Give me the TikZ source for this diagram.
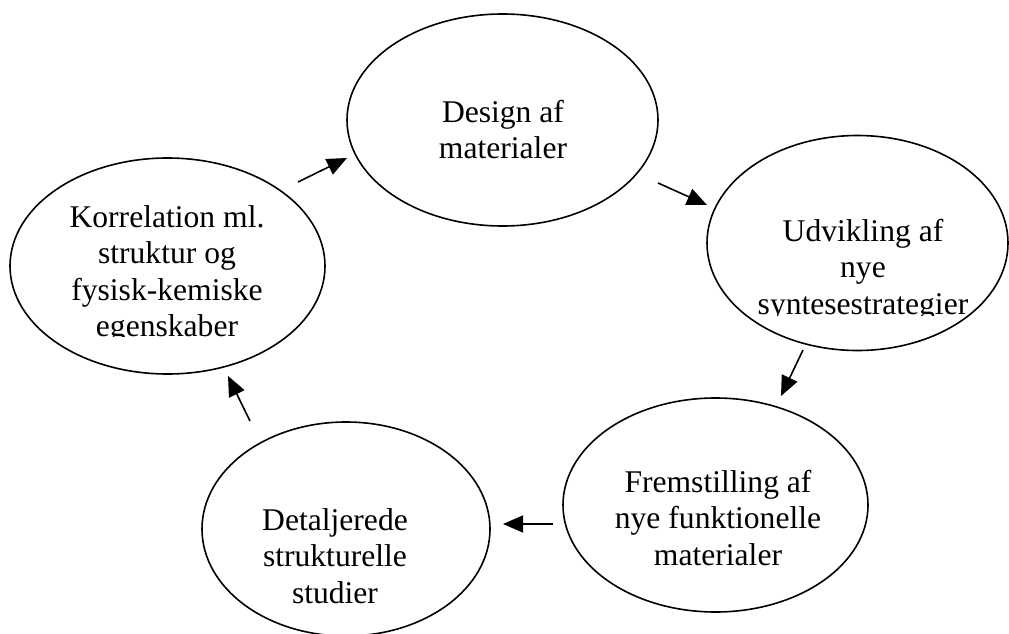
\documentclass[tikz,border=0pt]{standalone}
\usepackage{fontspec}
\setmainfont{Liberation Serif}
\usetikzlibrary{shapes.geometric,arrows.meta}
\begin{document}
\begin{tikzpicture}[x=1pt,y=-1pt,
  ell/.style={draw,ellipse,line width=1.6pt,inner sep=0pt},
  lbl/.style={anchor=base,inner sep=0pt,font=\fontsize{31.6}{36.5}\selectfont},
  arr/.style={line width=1.6pt,-{Triangle[length=20pt,width=17pt]}}]
\useasboundingbox (0,0) rectangle (1009,634);
% ellipses
\node[ell,minimum width=311pt,minimum height=212pt] (design) at (502.5,120) {};
\node[ell,minimum width=301pt,minimum height=215pt] (udv) at (857.5,243) {};
\node[ell,minimum width=305pt,minimum height=214pt] (frem) at (715.5,505) {};
\node[ell,minimum width=288pt,minimum height=214pt] (detal) at (346,529) {};
\node[ell,minimum width=315pt,minimum height=216pt] (korr) at (167.5,266) {};
% texts
\node[lbl] (designtxt) at (503,122) {\begin{tabular}[t]{@{}c@{}}Design af\\materialer\end{tabular}};
\begin{scope}
\clip (0,0) rectangle (1009,315);
\node[lbl] (udvtxt) at (863,241) {\begin{tabular}[t]{@{}c@{}}Udvikling af\\nye\\syntesestrategier\end{tabular}};
\end{scope}
\node[lbl] (fremtxt) at (718,492) {\begin{tabular}[t]{@{}c@{}}Fremstilling af\\nye funktionelle\\materialer\end{tabular}};
\node[lbl] (detaltxt) at (335,530) {\begin{tabular}[t]{@{}c@{}}Detaljerede\\strukturelle\\studier\end{tabular}};
\begin{scope}
\clip (0,0) rectangle (1009,336.5);
\node[lbl] (korrtxt) at (167,227) {\begin{tabular}[t]{@{}c@{}}Korrelation ml.\\struktur og\\fysisk-kemiske\\egenskaber\end{tabular}};
\end{scope}
% arrows
\coordinate (a1s) at (298,182); \coordinate (a1e) at (347,158);
\coordinate (a2s) at (658,183); \coordinate (a2e) at (707,205);
\coordinate (a3s) at (803,350); \coordinate (a3e) at (781,396);
\coordinate (a4s) at (553,524); \coordinate (a4e) at (503,524);
\coordinate (a5s) at (250,421); \coordinate (a5e) at (228,376);
\draw[arr] (a1s) -- (a1e);
\draw[arr] (a2s) -- (a2e);
\draw[arr] (a3s) -- (a3e);
\draw[arr] (a4s) -- (a4e);
\draw[arr] (a5s) -- (a5e);
\end{tikzpicture}
\end{document}
